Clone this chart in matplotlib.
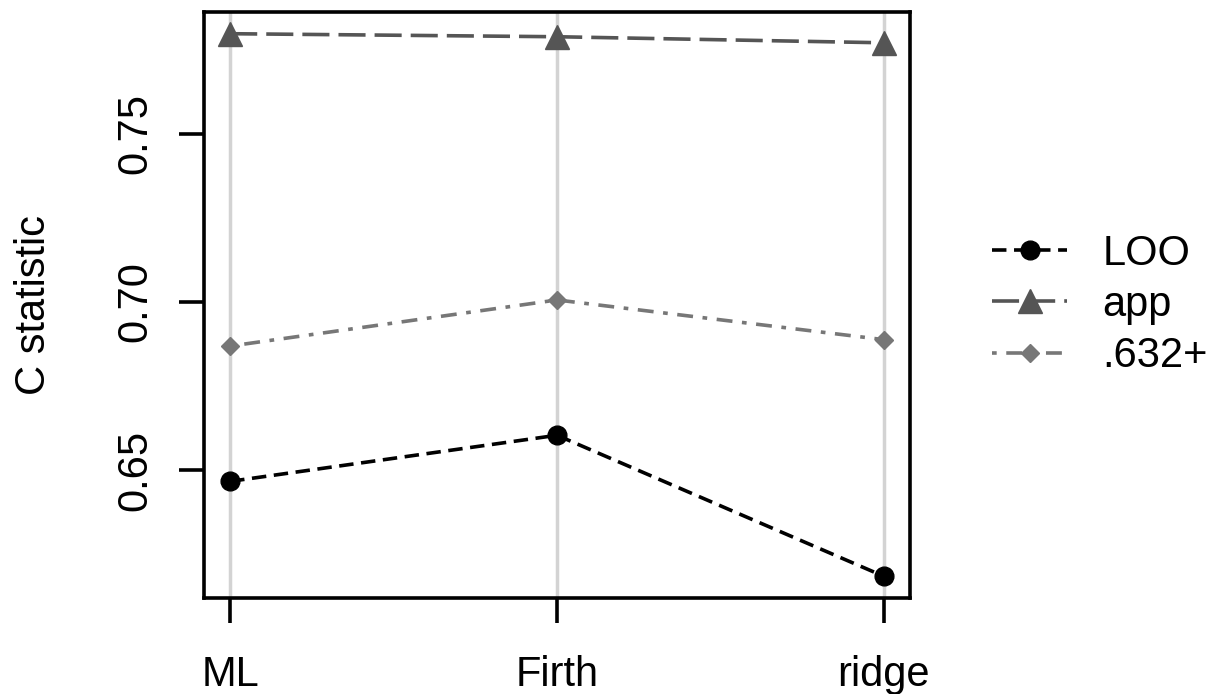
import matplotlib
matplotlib.use("Agg")
import matplotlib.pyplot as plt

plt.rcParams['font.family'] = ['Liberation Sans', 'DejaVu Sans']

categories = ["ML", "Firth", "ridge"]
loo = [0.6467, 0.6604, 0.6185]
app = [0.7797, 0.7788, 0.7770]
p632 = [0.6869, 0.7006, 0.6888]
yticks = [0.65, 0.70, 0.75]
ytick_labels = ["0.65", "0.70", "0.75"]

fig = plt.figure(figsize=(12.1, 6.94), dpi=100)
ax = fig.add_axes([204/1210, 1-598/694, (910-204)/1210, (598-12)/694])

x = list(range(1, len(categories)+1))
for xi in x:
    ax.axvline(xi, color='#d3d3d3', lw=2.5, zorder=0)

lw = 2.6
ax.plot(x, loo, color='black', lw=lw, dashes=(4.0, 2.1), marker='o', ms=13.5, label='LOO')
ax.plot(x, app, color='#555555', lw=lw, dashes=(7.5, 2.5), marker='^', ms=17, label='app')
ax.plot(x, p632, color='#777777', lw=lw, dashes=(1.3, 2.65, 4.4, 2.65), marker='D', ms=9.5, label='.632+')

lo = min(loo + app + p632); hi = max(loo + app + p632)
pad = (hi - lo) * 0.04
ax.set_ylim(lo - pad, hi + pad)
ax.set_xlim(1 - 0.08, 3 + 0.08)

ax.set_xticks(x)
ax.set_xticklabels(categories)
ax.set_yticks(yticks)
ax.set_yticklabels(ytick_labels, rotation=90, va='center')

for s in ax.spines.values():
    s.set_linewidth(2.6)
ax.tick_params(axis='both', length=18, width=2.6, labelsize=30)
ax.tick_params(axis='x', pad=23)
ax.tick_params(axis='y', pad=17)
ax.set_ylabel("C statistic", fontsize=30, labelpad=44)

leg = ax.legend(loc='center left', bbox_to_anchor=(992/1210, 1-305/694),
                bbox_transform=fig.transFigure, frameon=False,
                fontsize=30, handlelength=1.8, labelspacing=0.27, handletextpad=0.85,
                borderpad=0, borderaxespad=0)

fig.savefig("out.png", dpi=100)
